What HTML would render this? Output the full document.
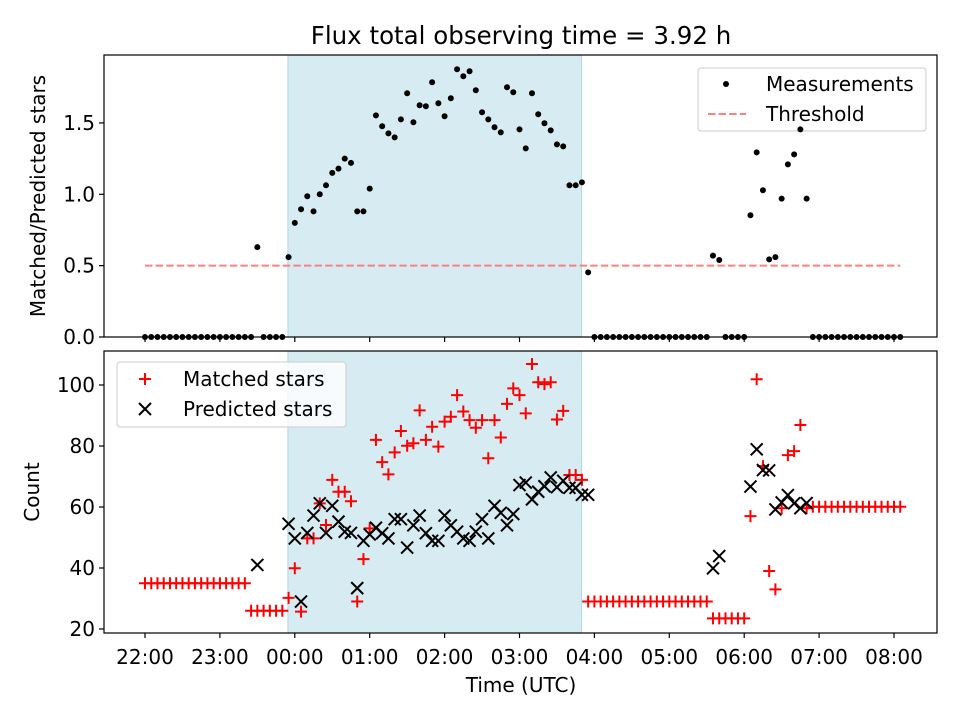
<!DOCTYPE html>
<html><head><meta charset="utf-8">
<style>
html,body{margin:0;padding:0;background:#fff;}
svg{display:block;font-family:"DejaVu Sans","Liberation Sans",sans-serif;}
</style></head>
<body>
<svg id="chart" width="960" height="720" viewBox="0 0 960 720" xmlns="http://www.w3.org/2000/svg">
<rect width="960" height="720" fill="#fff"/>
<text x="521" y="44" font-size="24.5" text-anchor="middle" fill="#000">Flux total observing time = 3.92 h</text>
<g id="top"></g>
<g id="bot"></g>
</svg>
<script>
// ---- data (minutes after 22:00, 5-min sampling) ----
const stepMinutes = 5;
const matchedLeft = [35,35,35,35,35,35,35,35,35,35,35,35,35,35,35,35,35,26,26,26,26,26,26];
const matchedMain = [30.2,39.9,25.7,49.7,49.7,61.2,54.1,68.9,65,65,61.9,29,42.9,53,82,74.7,70.7,77.9,84.9,80.1,80.9,91.7,82,86.3,79.8,88,89.6,96.7,91.3,88.5,86,88.5,76,88.5,82.8,93.8,98.9,96.7,90.7,106.9,100.9,100.3,100.9,88.7,91.5,70.5,70.5,68.9,29];
const matchedRight = [29,29,29,29,29,29,29,29,29,29,29,29,29,29,29,29,29,29,29,23.5,23.5,23.5,23.5,23.5,23.5,57,101.9,73.4,39,33,59.6,77,78.3,86.9,59.6,60.1,60.1,60.1,60.1,60.1,60.1,60.1,60.1,60.1,60.1,60.1,60.1,60.1,60.1,60.1];
const predictedLeft = [null,null,null,null,null,null,null,null,null,null,null,null,null,null,null,null,null,null,41,null,null,null,null];
const predictedMain = [54.5,49.7,29,51.5,57.2,61.2,51.5,60.4,55.2,51.9,51.5,33.4,48.9,51,53.2,51.4,49.7,56,56,46.7,54,57.2,51.4,48.9,48.9,57.2,54,51.9,49.7,48.9,51.9,56,49.7,60.4,58.1,54,57.7,67.2,68,62.5,65,66.8,69.7,66.5,68.6,66.3,66.3,64,64];
const predictedRight = [null,null,null,null,null,null,null,null,null,null,null,null,null,null,null,null,null,null,null,39.9,43.9,null,null,null,null,66.7,78.9,72.1,72,59.2,61.5,63.9,61.2,59.6,61.3,null,null,null,null,null,null,null,null,null,null,null,null,null,null,null];
const ratioLeft = [0,0,0,0,0,0,0,0,0,0,0,0,0,0,0,0,0,0,0.63,0,0,0,0];
const ratioMain = [0.56,0.80,0.895,0.986,0.88,1.0,1.063,1.15,1.18,1.25,1.22,0.88,0.88,1.04,1.553,1.477,1.427,1.399,1.525,1.708,1.505,1.624,1.617,1.785,1.638,1.547,1.673,1.876,1.827,1.862,1.729,1.575,1.525,1.47,1.434,1.75,1.715,1.455,1.322,1.708,1.561,1.498,1.448,1.35,1.336,1.063,1.063,1.084,0.453];
const ratioRight = [0,0,0,0,0,0,0,0,0,0,0,0,0,0,0,0,0,0,0,0.57,0.54,0,0,0,0,0.853,1.294,1.028,0.544,0.56,0.97,1.21,1.28,1.455,0.97,0,0,0,0,0,0,0,0,0,0,0,0,0,0,0];
const threshold = 0.5;
const observingWindow = [114.5, 349.7];
const xTickLabels = ["22:00","23:00","00:00","01:00","02:00","03:00","04:00","05:00","06:00","07:00","08:00"];
const topTicks = [0.0,0.5,1.0,1.5];
const botTicks = [20,40,60,80,100];

const matched = matchedLeft.concat(matchedMain, matchedRight);
const predicted = predictedLeft.concat(predictedMain, predictedRight);
const ratio = ratioLeft.concat(ratioMain, ratioRight);

const NS = "http://www.w3.org/2000/svg";
function mk(tag, attrs, parent){const e=document.createElementNS(NS,tag);for(const k in attrs)e.setAttribute(k,attrs[k]);parent.appendChild(e);return e;}
const L=104,R=937;
const FS=20;
const X=m=>145+(m/60)*74.9;
const topY=v=>337-v*142.7;
const botY=v=>629-(v-20)*3.05;

function panel(g, y0, y1, yfn, ticks, fmt, label, labelX, nameP){
  const shade=mk('rect',{x:X(observingWindow[0]),y:y0,width:X(observingWindow[1])-X(observingWindow[0]),height:y1-y0,fill:'#add8e6','fill-opacity':0.5,stroke:'#add8e6','stroke-width':1},g);
  
  
  xTickLabels.forEach((t,i)=>{const x=X(i*60);
    const tk=mk('line',{x1:x,x2:x,y1:y1,y2:y1+5,stroke:'#000','stroke-width':1.2},g);
    
    
    if(nameP==='bottom'){const tx=mk('text',{x:x,y:664,'font-size':FS,'text-anchor':'middle'},g);tx.textContent=t;
      
      }
  });
  ticks.forEach(v=>{const y=yfn(v);
    const tk=mk('line',{x1:L-5,x2:L,y1:y,y2:y,stroke:'#000','stroke-width':1.2},g);
    
    
    const tx=mk('text',{x:L-9,y:y+7,'font-size':FS,'text-anchor':'end'},g);tx.textContent=fmt(v);
    
    
  });
  const yl=mk('text',{x:labelX,y:(y0+y1)/2,'font-size':FS,'text-anchor':'middle',transform:`rotate(-90 ${labelX} ${(y0+y1)/2})`},g);yl.textContent=label;
  
  
}
const gt=document.getElementById('top'), gb=document.getElementById('bot');
panel(gt,55,337,topY,topTicks,v=>v.toFixed(1),'Matched/Predicted stars',45,'top');
panel(gb,351,633,botY,botTicks,v=>String(v),'Count',39,'bottom');

// threshold
const th=mk('line',{x1:X(0),x2:X(605),y1:topY(threshold),y2:topY(threshold),stroke:'#ff7f7f','stroke-width':2,'stroke-dasharray':'7.4,3.2'},gt);



// legends (drawn before points on top panel so points stay black)
const lg1=mk('g',{},gt);


mk('rect',{x:698,y:68,width:228,height:63,rx:3,fill:'#fff','fill-opacity':0.8,stroke:'#ccc'},lg1);
mk('circle',{cx:726,cy:84,r:3,fill:'#000'},lg1);
let t=mk('text',{x:766,y:91,'font-size':FS},lg1);t.textContent='Measurements';


mk('line',{x1:708,x2:746,y1:114,y2:114,stroke:'#ff7f7f','stroke-width':2,'stroke-dasharray':'7.4,3.2'},lg1);
t=mk('text',{x:766,y:121,'font-size':FS},lg1);t.textContent='Threshold';



// measurements
ratio.forEach((v,i)=>{
  const c=mk('circle',{cx:X(i*stepMinutes),cy:topY(v),r:3,fill:'#000'},gt);
  
  
});
// matched
matched.forEach((v,i)=>{
  const x=X(i*stepMinutes),y=botY(v);
  const p=mk('path',{d:`M${x-6} ${y}H${x+6}M${x} ${y-6}V${y+6}`,stroke:'#ff0000','stroke-width':2,fill:'none'},gb);
  
  
});
// predicted
predicted.forEach((v,i)=>{
  if(v===null)return;
  const x=X(i*stepMinutes),y=botY(v);
  const p=mk('path',{d:`M${x-6} ${y-6}L${x+6} ${y+6}M${x-6} ${y+6}L${x+6} ${y-6}`,stroke:'#000','stroke-width':2,fill:'none'},gb);
  
  
});
// frames
const f1=mk('rect',{x:L,y:55,width:R-L,height:282,fill:'none',stroke:'#000','stroke-width':1.2},gt);


const f2=mk('rect',{x:L,y:351,width:R-L,height:282,fill:'none',stroke:'#000','stroke-width':1.2},gb);


// x title
const xt=mk('text',{x:521,y:692,'font-size':FS,'text-anchor':'middle'},gb);xt.textContent='Time (UTC)';



const lg2=mk('g',{},gb);


mk('rect',{x:117,y:362,width:229,height:65,rx:3,fill:'#fff','fill-opacity':0.8,stroke:'#ccc'},lg2);
mk('path',{d:'M139 379H151M145 373V385',stroke:'#ff0000','stroke-width':2},lg2);
t=mk('text',{x:183,y:386,'font-size':FS},lg2);t.textContent='Matched stars';


mk('path',{d:'M139 403L151 415M139 415L151 403',stroke:'#000','stroke-width':2},lg2);
t=mk('text',{x:183,y:416,'font-size':FS},lg2);t.textContent='Predicted stars';


</script>
</body></html>
